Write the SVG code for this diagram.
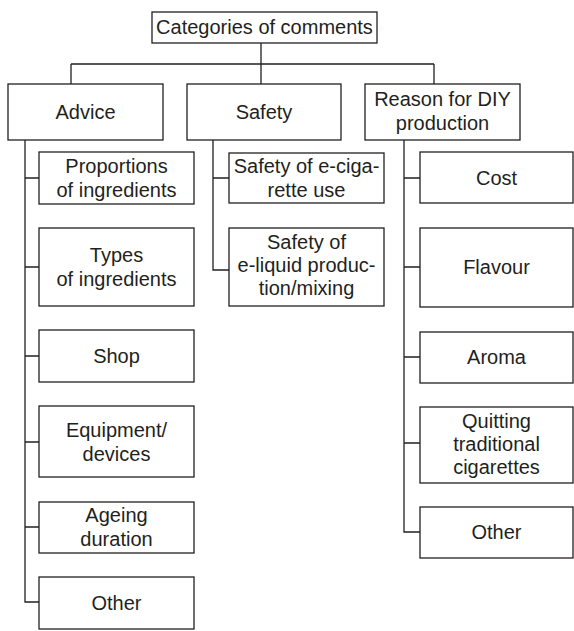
<svg xmlns="http://www.w3.org/2000/svg" width="574" height="631" viewBox="0 0 574 631">
<style>
.box{fill:#fff;stroke:#231f20;stroke-width:1.3}
.ln{fill:none;stroke:#231f20;stroke-width:1.3}
text{font-family:"Liberation Sans",Arial,sans-serif;font-size:20px;fill:#231f20;text-anchor:middle}
</style>
<rect width="574" height="631" fill="#fff"/>
<g id="connectors">
<path class="ln" d="M261,43V64M71,64H434M71,64V84M261,64V84M434,64V84"/>
<path class="ln" d="M25,140V602H39M25,178H39M25,267H39M25,356H39M25,442H39M25,527H39"/>
<path class="ln" d="M213,140V270H229M213,178H229"/>
<path class="ln" d="M404,140V532H420M404,178H420M404,267H420M404,357H420M404,443H420"/>
</g>
<g id="root"><rect class="box" x="152" y="12" width="225" height="31"/><text x="264.5" y="34">Categories of comments</text></g>
<g id="advice"><rect class="box" x="8" y="84" width="155" height="56"/><text x="85.5" y="119">Advice</text></g>
<g id="safety"><rect class="box" x="187" y="84" width="154" height="56"/><text x="264" y="119">Safety</text></g>
<g id="reason"><rect class="box" x="365" y="84" width="155" height="56"/><text x="442.5" y="106">Reason for DIY</text><text x="442.5" y="130">production</text></g>
<g id="adv-proportions"><rect class="box" x="39" y="152" width="155" height="52"/><text x="116.5" y="173">Proportions</text><text x="116.5" y="197">of ingredients</text></g>
<g id="adv-types"><rect class="box" x="39" y="228" width="155" height="78"/><text x="116.5" y="262">Types</text><text x="116.5" y="286">of ingredients</text></g>
<g id="adv-shop"><rect class="box" x="39" y="330" width="155" height="52"/><text x="116.5" y="363">Shop</text></g>
<g id="adv-equipment"><rect class="box" x="39" y="406" width="155" height="71"/><text x="116.5" y="437">Equipment/</text><text x="116.5" y="461">devices</text></g>
<g id="adv-ageing"><rect class="box" x="39" y="502" width="155" height="51"/><text x="116.5" y="522">Ageing</text><text x="116.5" y="546">duration</text></g>
<g id="adv-other"><rect class="box" x="39" y="577" width="155" height="52"/><text x="116.5" y="610">Other</text></g>
<g id="saf-ecig"><rect class="box" x="229" y="153" width="155" height="50"/><text x="306.5" y="173">Safety of e-ciga-</text><text x="306.5" y="197">rette use</text></g>
<g id="saf-eliquid"><rect class="box" x="229" y="228" width="155" height="78"/><text x="306.5" y="249">Safety of</text><text x="306.5" y="272">e-liquid produc-</text><text x="306.5" y="295">tion/mixing</text></g>
<g id="rsn-cost"><rect class="box" x="420" y="152" width="153" height="51"/><text x="496.5" y="185">Cost</text></g>
<g id="rsn-flavour"><rect class="box" x="420" y="228" width="153" height="79"/><text x="496.5" y="274">Flavour</text></g>
<g id="rsn-aroma"><rect class="box" x="420" y="332" width="153" height="51"/><text x="496.5" y="364">Aroma</text></g>
<g id="rsn-quitting"><rect class="box" x="420" y="407" width="153" height="76"/><text x="496.5" y="428">Quitting</text><text x="496.5" y="451">traditional</text><text x="496.5" y="474">cigarettes</text></g>
<g id="rsn-other"><rect class="box" x="420" y="507" width="153" height="51"/><text x="496.5" y="539">Other</text></g>
</svg>
